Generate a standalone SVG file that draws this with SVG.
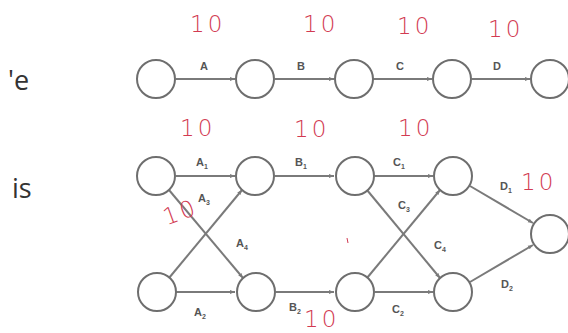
<svg xmlns="http://www.w3.org/2000/svg" width="568" height="333" viewBox="0 0 568 333">
<style>
.n{fill:#fff;stroke:#6e6e6e;stroke-width:2}
.e{stroke:#7a7a7a;stroke-width:2;fill:none;marker-end:url(#ah)}
.l{font-family:"Liberation Sans",Arial,sans-serif;font-size:11px;font-weight:bold;fill:#555;text-anchor:middle}
.s{font-size:7px}
.r{font-family:"DejaVu Sans","Liberation Sans",sans-serif;font-size:23px;font-weight:200;fill:#d23a52;letter-spacing:3px}
.bg{font-family:"Open Sans","Liberation Sans",sans-serif;font-size:27px;fill:#333}
</style>
<defs>
<marker id="ah" viewBox="0 0 10 10" refX="10" refY="5" markerWidth="5" markerHeight="5" orient="auto" markerUnits="userSpaceOnUse"><path d="M0,1 L10,5 L0,9 z" fill="#7a7a7a"/></marker>
</defs>
<rect width="568" height="333" fill="#fff"/>
<text class="bg" x="8" y="90">'e</text>
<text class="bg" x="12" y="198">is</text>
<g id="connectors">
<line class="e" x1="176" y1="79" x2="235" y2="79"/>
<line class="e" x1="275" y1="79" x2="334" y2="79"/>
<line class="e" x1="373" y1="79" x2="432" y2="79"/>
<line class="e" x1="472" y1="79" x2="530" y2="79"/>
<line class="e" x1="176" y1="176" x2="235" y2="176"/>
<line class="e" x1="275" y1="176" x2="334" y2="176"/>
<line class="e" x1="374" y1="176" x2="433" y2="176"/>
<line class="e" x1="176" y1="292" x2="235" y2="292"/>
<line class="e" x1="276" y1="292" x2="334" y2="292"/>
<line class="e" x1="375" y1="292" x2="433" y2="292"/>
<line class="e" x1="169" y1="278" x2="242" y2="190"/>
<line class="e" x1="169" y1="190" x2="243" y2="278"/>
<line class="e" x1="367" y1="278" x2="440" y2="190"/>
<line class="e" x1="367" y1="190" x2="440" y2="278"/>
<line class="e" x1="470" y1="186" x2="533" y2="223"/>
<line class="e" x1="470" y1="282" x2="533" y2="245"/>
</g>
<g id="n1"><circle class="n" cx="156" cy="79" r="19"/></g>
<g id="n2"><circle class="n" cx="255" cy="79" r="19"/></g>
<g id="n3"><circle class="n" cx="354" cy="79" r="19"/></g>
<g id="n4"><circle class="n" cx="452" cy="79" r="19"/></g>
<g id="n5"><circle class="n" cx="550" cy="79" r="19"/></g>
<g id="m1"><circle class="n" cx="156" cy="176" r="19"/></g>
<g id="m2"><circle class="n" cx="255" cy="176" r="19"/></g>
<g id="m3"><circle class="n" cx="355" cy="176" r="19"/></g>
<g id="m4"><circle class="n" cx="453" cy="176" r="19"/></g>
<g id="b1"><circle class="n" cx="157" cy="292" r="19"/></g>
<g id="b2"><circle class="n" cx="256" cy="292" r="19"/></g>
<g id="b3"><circle class="n" cx="355" cy="292" r="19"/></g>
<g id="b4"><circle class="n" cx="453" cy="292" r="19"/></g>
<g id="end"><circle class="n" cx="550" cy="234" r="19"/></g>
<g id="labels">
<text class="l" x="204" y="70">A</text>
<text class="l" x="301" y="70">B</text>
<text class="l" x="400" y="70">C</text>
<text class="l" x="497" y="70">D</text>
<text class="l" x="202" y="166">A<tspan class="s" dy="3">1</tspan></text>
<text class="l" x="204" y="202">A<tspan class="s" dy="3">3</tspan></text>
<text class="l" x="242" y="247">A<tspan class="s" dy="3">4</tspan></text>
<text class="l" x="200" y="316">A<tspan class="s" dy="3">2</tspan></text>
<text class="l" x="301" y="166">B<tspan class="s" dy="3">1</tspan></text>
<text class="l" x="295" y="311">B<tspan class="s" dy="3">2</tspan></text>
<text class="l" x="399" y="166">C<tspan class="s" dy="3">1</tspan></text>
<text class="l" x="404" y="209">C<tspan class="s" dy="3">3</tspan></text>
<text class="l" x="440" y="249">C<tspan class="s" dy="3">4</tspan></text>
<text class="l" x="398" y="313">C<tspan class="s" dy="3">2</tspan></text>
<text class="l" x="506" y="190">D<tspan class="s" dy="3">1</tspan></text>
<text class="l" x="507" y="288">D<tspan class="s" dy="3">2</tspan></text>
</g>
<g id="handwriting">
<text class="r" x="190" y="32">10</text>
<text class="r" x="303" y="32">10</text>
<text class="r" x="397" y="34">10</text>
<text class="r" x="488" y="37">10</text>
<text class="r" x="180" y="136">10</text>
<text class="r" x="294" y="137">10</text>
<text class="r" x="398" y="136">10</text>
<text class="r" x="521" y="190">10</text>
<text class="r" x="163" y="222" font-size="18" transform="rotate(-20 175 214)">10</text>
<text class="r" x="304" y="327">10</text>
<line x1="347" y1="238" x2="348" y2="243" stroke="#d23a52" stroke-width="1"/>
</g>
</svg>
